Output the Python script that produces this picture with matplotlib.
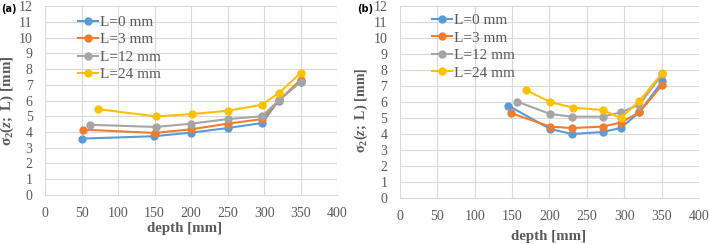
import matplotlib.pyplot as plt

plt.rcParams['font.family'] = 'Liberation Serif'
plt.rcParams['mathtext.fontset'] = 'custom'
plt.rcParams['mathtext.rm'] = 'Liberation Serif:bold'
plt.rcParams['mathtext.bf'] = 'Liberation Serif:bold'
plt.rcParams['mathtext.it'] = 'Liberation Serif:italic:bold'

labels = ["L=0 mm", "L=3 mm", "L=12 mm", "L=24 mm"]
colors = ["#5B9BD5", "#ED7D31", "#A5A5A5", "#FFC000"]

# panel (a)
a_x = [
    [50, 149, 200, 250, 297, 320, 350],
    [52, 150, 200, 250, 297, 321, 350],
    [62, 152, 200, 250, 297, 321, 350],
    [73, 152, 201, 250, 297, 321, 350],
]
a_y = [
    [3.58, 3.73, 3.96, 4.25, 4.57, 6.0, 7.2],
    [4.15, 3.94, 4.17, 4.53, 4.82, 6.04, 7.32],
    [4.46, 4.32, 4.53, 4.82, 5.0, 6.04, 7.2],
    [5.45, 4.99, 5.14, 5.35, 5.73, 6.51, 7.75],
]

# panel (b)
b_x = [
    [145, 201, 230, 271, 295, 320, 351],
    [148, 201, 230, 271, 295, 320, 351],
    [157, 201, 230, 271, 295, 320, 351],
    [169, 201, 231, 271, 295, 320, 351],
]
b_y = [
    [5.77, 4.31, 4.0, 4.12, 4.37, 5.35, 7.29],
    [5.31, 4.46, 4.37, 4.46, 4.71, 5.35, 7.08],
    [6.02, 5.25, 5.08, 5.08, 5.35, 5.83, 7.75],
    [6.73, 6.0, 5.65, 5.5, 5.0, 6.06, 7.83],
]

txt = "#595959"
ylab = r"$\mathbf{\sigma_2(}\mathit{z}\mathbf{;\ L)\ [mm]}$"
fig = plt.figure(figsize=(7.09, 2.44), dpi=100)
ax1 = fig.add_axes([0.0635, 0.201, 0.412, 0.774])
ax2 = fig.add_axes([0.564, 0.189, 0.422, 0.786])

# per-panel layout tweaks: ylabel size, ylabel pos, xlabel pos, legend anchor
setup = [
    (ax1, a_x, a_y, 10.8, (-0.10, 0.50), (0.476, -0.143), (0.092, 0.984)),
    (ax2, b_x, b_y, 10.2, (-0.10, 0.458), (0.497, -0.167), (0.086, 0.993)),
]

for ax, xs, ys, ysize, ypos, xpos, lpos in setup:
    for x, y, c, lab in zip(xs, ys, colors, labels):
        ax.plot(x, y, color=c, lw=1.5, marker="o", ms=5, label=lab, zorder=3)
    ax.set_xlim(0, 400)
    ax.set_ylim(0, 12)
    ax.set_xticks(range(0, 401, 50))
    ax.set_yticks(range(0, 13))
    ax.grid(True, color="#D9D9D9", lw=0.8)
    for s in ["left", "right", "top"]:
        ax.spines[s].set_visible(False)
    ax.spines["bottom"].set_color("#D9D9D9")
    ax.tick_params(length=0, labelsize=10, colors=txt, pad=9)
    ax.set_xlabel("depth [mm]", fontsize=10.7, fontweight="bold", color=txt)
    ax.xaxis.set_label_coords(*xpos)
    ax.set_ylabel(ylab, fontsize=ysize, color=txt)
    ax.yaxis.set_label_coords(*ypos)
    leg = ax.legend(loc="upper left", bbox_to_anchor=lpos, frameon=False,
                    fontsize=11, handlelength=1.3, labelspacing=0.25, handletextpad=0.15,
                    borderaxespad=0)
    for t in leg.get_texts():
        t.set_color(txt)

fig.text(0.002, 0.985, "(a)", fontsize=7, fontweight="bold", family="DejaVu Sans", va="top")
fig.text(0.503, 0.985, "(b)", fontsize=7, fontweight="bold", family="DejaVu Sans", va="top")

fig.savefig("out.png", dpi=100)
